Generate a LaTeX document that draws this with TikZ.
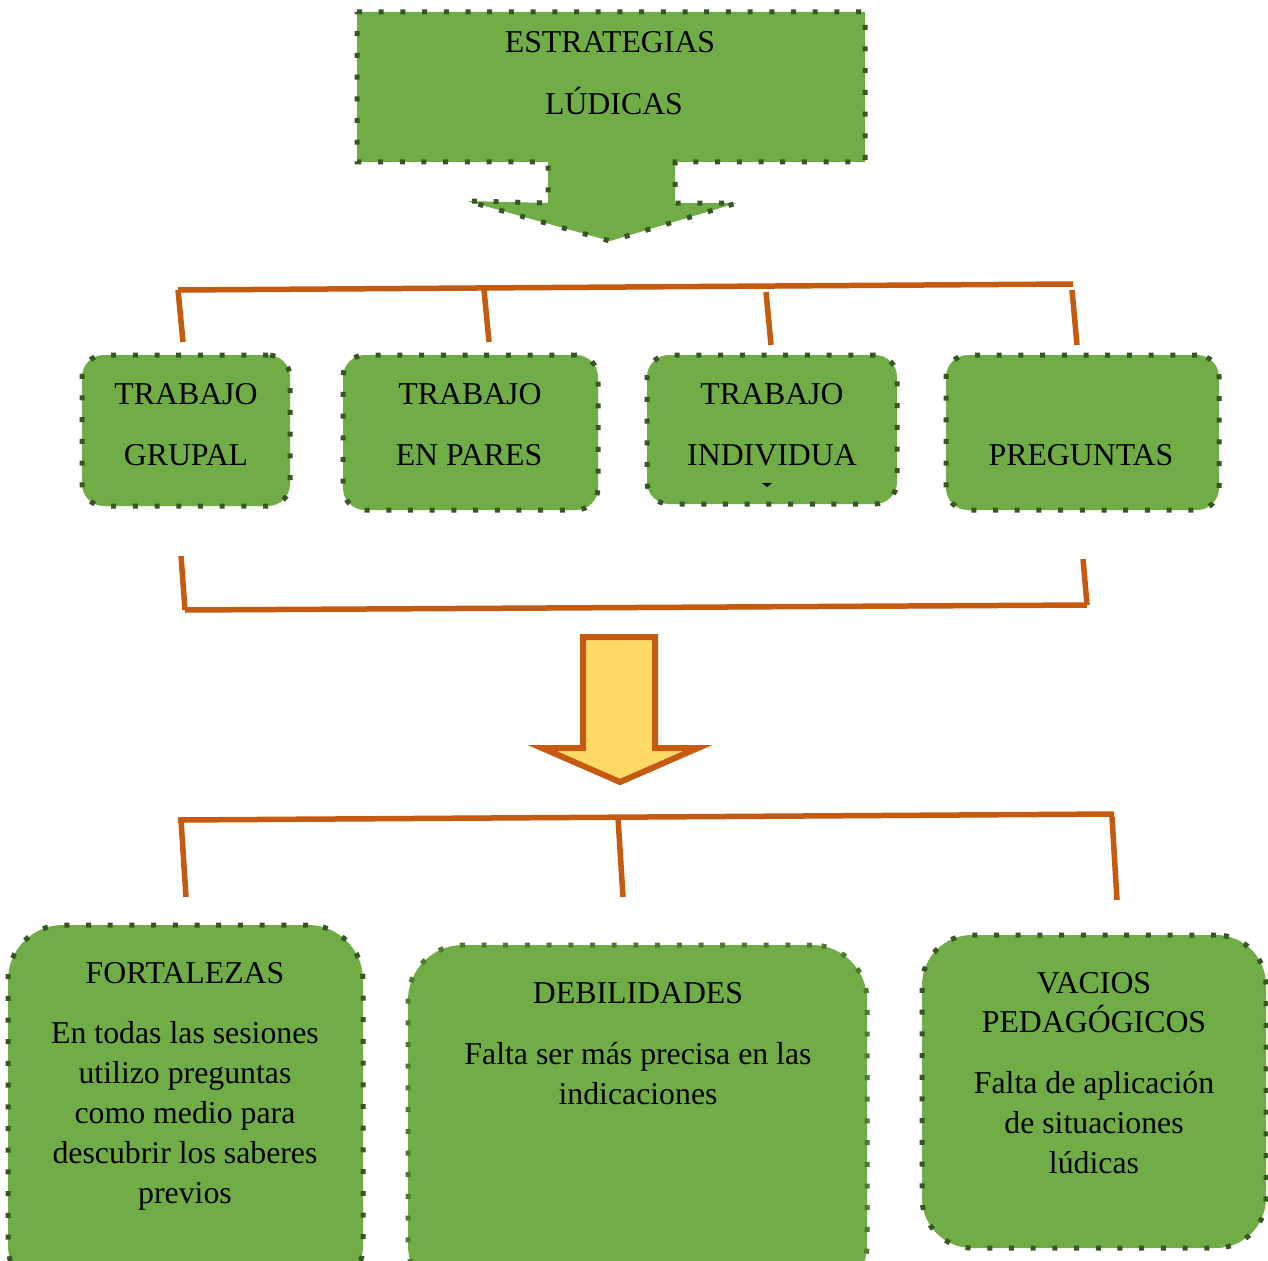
\documentclass[tikz,border=0pt]{standalone}
\usepackage{fontspec}
\setmainfont{Liberation Serif}
\definecolor{boxgreen}{HTML}{70AD47}
\definecolor{dotgreen}{HTML}{375623}
\definecolor{dotmid}{HTML}{4E7A2E}
\definecolor{lineorange}{HTML}{C55A11}
\definecolor{arrowyellow}{HTML}{FFD966}
\tikzset{
  dotborder/.style={draw=dotgreen, line width=5pt, dash pattern=on 5pt off 16.7pt},
  gbox/.style={rectangle, fill=boxgreen, dotborder, rounded corners=22pt, inner sep=0pt},
  bbox/.style={rectangle, fill=boxgreen, dotborder, rounded corners=55pt, inner sep=0pt},
  txt/.style={font=\fontsize{31.8}{38}\selectfont, inner sep=0pt, anchor=base, text=black},
  conn/.style={draw=lineorange, line width=5.5pt},
}
\begin{document}
\begin{tikzpicture}[x=1pt,y=-1pt]
\useasboundingbox (0,0) rectangle (1268,1260);
\clip (0,0) rectangle (1268,1260);

% top callout box with arrow
\path[fill=boxgreen, dotborder]
  (357,12) -- (865,12) -- (865,162) -- (675,162) -- (675,203) -- (737,203)
  -- (610,241) -- (467,201) -- (548,203) -- (548,162) -- (357,162) -- cycle;
\node[txt] (t1) at (610,53) {ESTRATEGIAS};
\node[txt] (t2) at (614,115) {LÚDICAS};

% top bracket
\coordinate (a0) at (178,290);
\coordinate (a1) at (1073,284);
\draw[conn] (a0) -- (a1);
\coordinate (a2) at (183,342);
\coordinate (a3) at (484,290);
\coordinate (a4) at (489,342);
\coordinate (a5) at (766,292);
\coordinate (a6) at (771,345);
\coordinate (a7) at (1072,290);
\coordinate (a8) at (1077,345);
\draw[conn] (a0) -- (a2);
\draw[conn] (a3) -- (a4);
\draw[conn] (a5) -- (a6);
\draw[conn] (a7) -- (a8);

% second row boxes
\node[gbox, minimum width=208pt, minimum height=151pt] (grupal) at (186,430.5) {};
\node[gbox, minimum width=255pt, minimum height=155pt] (pares) at (470.5,432.5) {};
\node[gbox, minimum width=250pt, minimum height=149pt] (indiv) at (772,429.5) {};
\node[gbox, minimum width=273pt, minimum height=155pt] (preg) at (1082.5,432.5) {};

\node[txt] (g1) at (186,404) {TRABAJO};
\node[txt] (g2) at (186,465) {GRUPAL};
\node[txt] (p1) at (470,404) {TRABAJO};
\node[txt] (p2) at (469,465) {EN PARES};
\node[txt] (i1) at (772,404) {TRABAJO};
\node[txt] (i2) at (772,465) {INDIVIDUA};
\fill[black] (762,483) -- (772,483) -- (767,487) -- cycle;
\node[txt] (q1) at (1081,465) {PREGUNTAS};

% lower bracket
\coordinate (b0) at (181,556);
\coordinate (b1) at (185,610);
\coordinate (b2) at (1087,605);
\coordinate (b3) at (1083,559);
\draw[conn] (b0) -- (b1);
\draw[conn] (b1) -- (b2);
\draw[conn] (b3) -- (b2);

% yellow arrow
\path[fill=arrowyellow, draw=lineorange, line width=6pt, miter limit=10]
  (583,637) -- (655,637) -- (655,748) -- (698,748) -- (620,782)
  -- (542,748) -- (583,748) -- cycle;

% bottom bracket
\coordinate (c0) at (178,820);
\coordinate (c1) at (1114,814);
\draw[conn] (c0) -- (c1);
\coordinate (c2) at (186,897);
\coordinate (c3) at (618,818);
\coordinate (c4) at (623,897);
\coordinate (c5) at (1112,817);
\coordinate (c6) at (1117,900);
\draw[conn] (181,820) -- (c2);
\draw[conn] (c3) -- (c4);
\draw[conn] (c5) -- (c6);

% bottom boxes
\node[bbox, minimum width=355pt, minimum height=375pt] (fort) at (185.5,1112.5) {};
\node[bbox, dotborder, draw=dotmid, minimum width=459pt, minimum height=355pt] (deb) at (637.5,1122.5) {};
\node[bbox, minimum width=344pt, minimum height=313pt, rounded corners=50pt] (vac) at (1094,1091.5) {};

\node[txt] (f0) at (185,983) {FORTALEZAS};
\node[txt] (f1) at (185,1043) {En todas las sesiones};
\node[txt] (f2) at (185,1083) {utilizo preguntas};
\node[txt] (f3) at (185,1123) {como medio para};
\node[txt] (f4) at (185,1163) {descubrir los saberes};
\node[txt] (f5) at (185,1203) {previos};

\node[txt] (d0) at (638,1003) {DEBILIDADES};
\node[txt] (d1) at (638,1064) {Falta ser más precisa en las};
\node[txt] (d2) at (638,1104) {indicaciones};

\node[txt] (v0) at (1094,993) {VACIOS};
\node[txt] (v1) at (1094,1032) {PEDAGÓGICOS};
\node[txt] (v2) at (1094,1093) {Falta de aplicación};
\node[txt] (v3) at (1094,1133) {de situaciones};
\node[txt] (v4) at (1094,1173) {lúdicas};
\end{tikzpicture}
\end{document}
